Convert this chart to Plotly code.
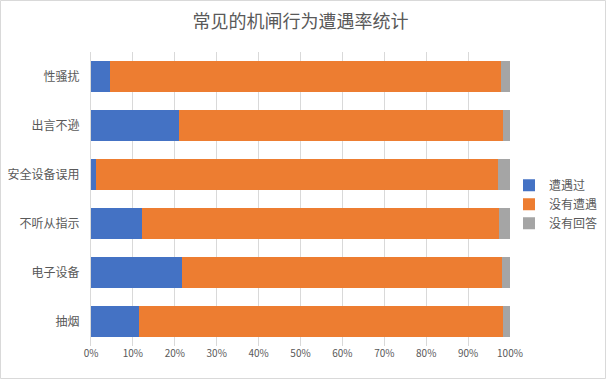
import plotly.graph_objects as go

categories = ["性骚扰", "出言不逊", "安全设备误用", "不听从指示", "电子设备", "抽烟"]
series_names = ["遭遇过", "没有遭遇", "没有回答"]
encountered = [4.5, 21.0, 1.2, 12.2, 21.6, 11.5]
not_encountered = [93.4, 77.4, 95.9, 85.2, 76.5, 86.8]
no_answer = [2.1, 1.6, 2.9, 2.6, 1.9, 1.7]
x_ticks = [0, 10, 20, 30, 40, 50, 60, 70, 80, 90, 100]
x_tick_labels = [f"{v}%" for v in x_ticks]

colors = ["#4472C4", "#ED7D31", "#A5A5A5"]
FONT = "Noto Sans CJK SC"
TXT = "#595959"

fig = go.Figure()
for name, vals, c in zip(series_names, [encountered, not_encountered, no_answer], colors):
    fig.add_trace(go.Bar(
        y=categories, x=vals, name=name, orientation="h",
        marker=dict(color=c, line=dict(width=0)),
    ))

W, H = 606, 379
ml, mr, mt, mb = 91, 96, 52, 33
pw, ph = W - ml - mr, H - mt - mb

fig.update_layout(
    width=W, height=H,
    barmode="stack", bargap=0.35,
    plot_bgcolor="white", paper_bgcolor="white",
    margin=dict(l=ml, r=mr, t=mt, b=mb, autoexpand=False),
    font=dict(family=FONT, color=TXT, size=12),
    title=dict(text="常见的机闸行为遭遇率统计", x=0.5, xref="paper", xanchor="center",
               y=1 - 22 / H, yanchor="middle",
               font=dict(size=18, color=TXT, family=FONT)),
    xaxis=dict(range=[0, 100], tickvals=x_ticks, ticktext=x_tick_labels,
               showgrid=True, gridcolor="#D9D9D9", gridwidth=1,
               zeroline=False, showline=False,
               tickfont=dict(size=10, color=TXT), ticks="", fixedrange=True),
    yaxis=dict(autorange="reversed", showgrid=False, zeroline=False,
               showline=True, linecolor="#D9D9D9", linewidth=1,
               tickfont=dict(size=12, color=TXT), ticks="", ticklabelstandoff=8),
    legend=dict(x=(509 - ml) / pw, xanchor="left", y=0.482, yanchor="middle",
                font=dict(size=12, color=TXT), itemwidth=30, tracegroupgap=0,
                traceorder="normal", bgcolor="rgba(0,0,0,0)"),
    shapes=[dict(type="rect", xref="paper", yref="paper",
                 x0=-(ml - 0.5) / pw, x1=1 + (mr - 0.5) / pw,
                 y0=-(mb - 0.5) / ph, y1=1 + (mt - 0.5) / ph,
                 line=dict(color="#D9D9D9", width=1), layer="below")],
)

fig.write_html("out.html",
               config={"displayModeBar": False},
               post_script="document.body.style.margin='0';document.body.style.overflow='hidden';")
